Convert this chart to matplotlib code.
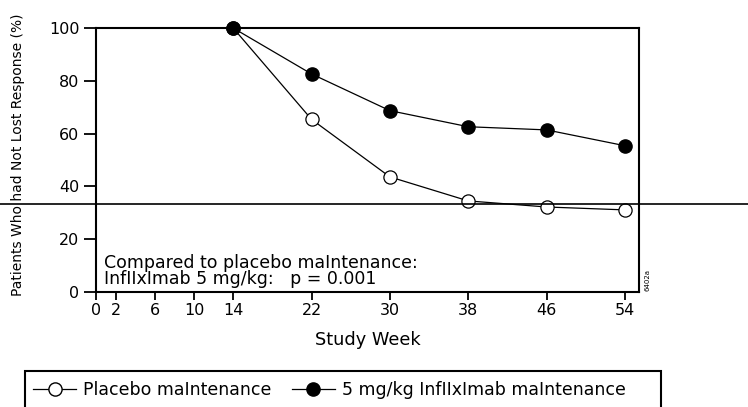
import matplotlib.pyplot as plt
from matplotlib.lines import Line2D
from matplotlib.patches import Rectangle

plt.rcParams['font.family'] = ['DejaVu Sans']

# Data
weeks = [14, 22, 30, 38, 46, 54]
placebo = [100, 65.4, 43.6, 34.5, 32.2, 31.1]
infliximab = [100, 82.6, 68.7, 62.6, 61.4, 55.4]

x_ticks = [0, 2, 6, 10, 14, 22, 30, 38, 46, 54]
y_ticks = [0, 20, 40, 60, 80, 100]

placebo_label = "Placebo maIntenance"
infliximab_label = "5 mg/kg InfIIxImab maIntenance"
note_text = "Compared to placebo maIntenance:\nInfIIxImab 5 mg/kg:   p = 0.001"

fig = plt.figure(figsize=(7.48, 4.07), dpi=100)
ax = fig.add_axes([96 / 748, 1 - 292 / 407, (639 - 96) / 748, (292 - 28) / 407])

# placebo first so the filled marker sits on top at week 14
ax.plot(weeks, placebo, color='black', linewidth=0.9, marker='o', markersize=9.5,
        markerfacecolor='white', markeredgecolor='black', markeredgewidth=0.9,
        clip_on=False, zorder=3)
ax.plot(weeks, infliximab, color='black', linewidth=0.9, marker='o', markersize=9.5,
        markerfacecolor='black', markeredgecolor='black', clip_on=False, zorder=4)

ax.set_xlim(0, 55.43)
ax.set_ylim(0, 100)
ax.set_xticks(x_ticks)
ax.set_yticks(y_ticks)
ax.tick_params(axis='x', direction='out', length=6, width=1.3, pad=2, labelsize=11.5)
ax.tick_params(axis='y', direction='out', length=9, width=1.3, pad=3, labelsize=11.5)
for s in ax.spines.values():
    s.set_linewidth(1.5)

ax.set_xlabel("Study Week", fontsize=12.8, labelpad=9)
ax.set_ylabel("Patients Who had Not Lost Response (%)", fontsize=10)
ax.yaxis.set_label_coords(-0.131, 0.519)

ax.text(0.8, 1.5, note_text, fontsize=12.5, va='bottom', linespacing=0.85)

fig.text(648 / 748, 1 - 280 / 407, "6402a", rotation=90, fontsize=5, ha='center', va='center')

# stray horizontal rule across the whole page
fig.add_artist(Line2D([0, 1], [1 - 204 / 407, 1 - 204 / 407], color='black', linewidth=1.2,
                      transform=fig.transFigure))

# legend box (cut off at bottom edge)
fig.add_artist(Rectangle((25 / 748, -0.05), (661 - 25) / 748, 0.05 + (407 - 371) / 407,
                         transform=fig.transFigure, fill=False, edgecolor='black', linewidth=1.5))
handles = [
    Line2D([], [], color='black', linewidth=0.9, marker='o', markersize=9.5,
           markerfacecolor='white', markeredgecolor='black'),
    Line2D([], [], color='black', linewidth=0.9, marker='o', markersize=9.5,
           markerfacecolor='black', markeredgecolor='black'),
]
fig.legend(handles, [placebo_label, infliximab_label], loc='center left',
           bbox_to_anchor=(33 / 748, 1 - 390 / 407), ncol=2, frameon=False,
           fontsize=12.5, handlelength=2.5, handletextpad=0.4, columnspacing=1.15,
           borderpad=0, borderaxespad=0)

fig.savefig("out.png", dpi=100)
